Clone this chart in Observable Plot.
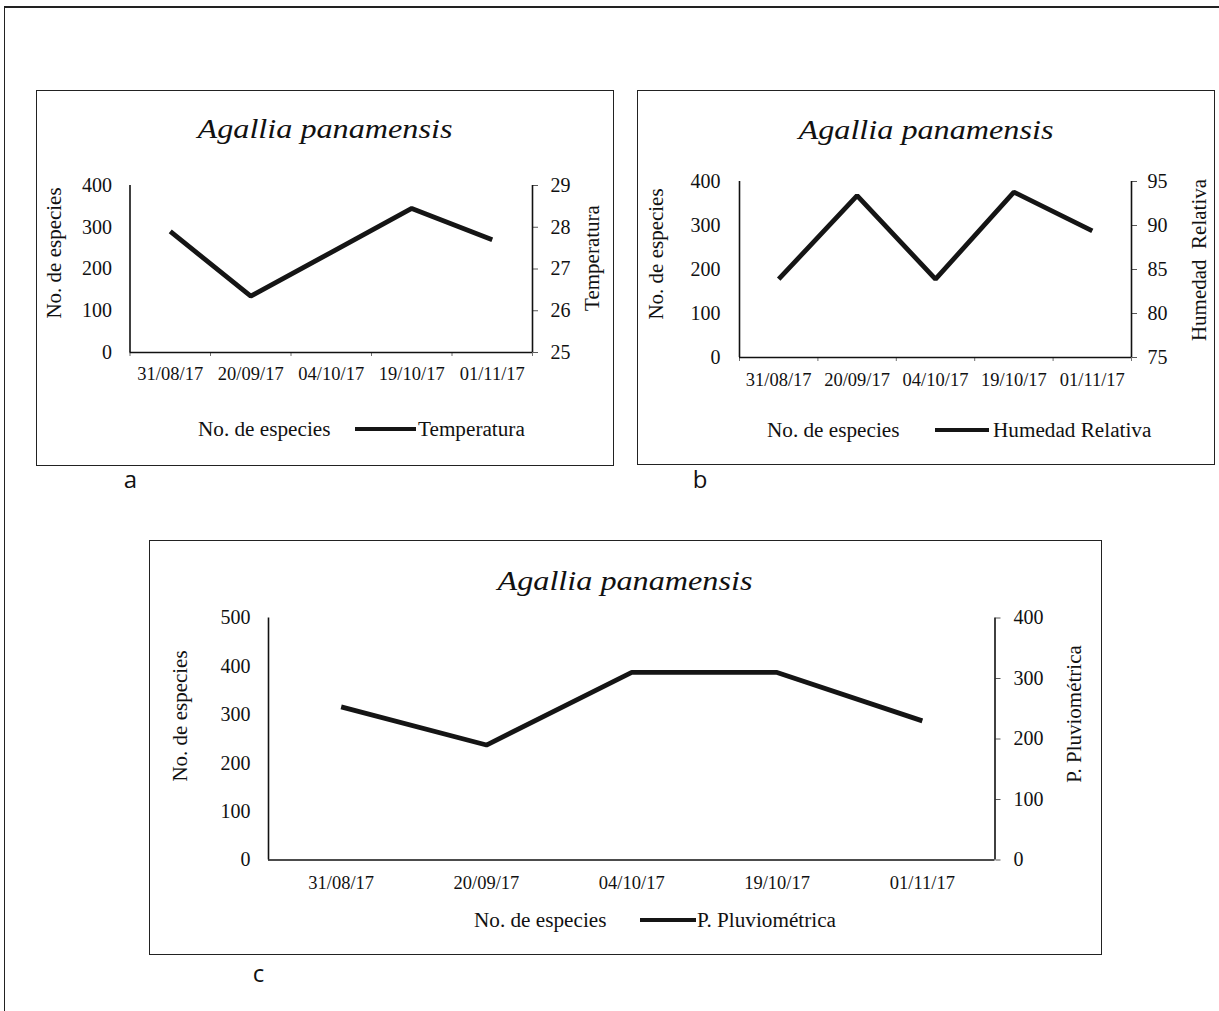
<!DOCTYPE html>
<html><head><meta charset="utf-8">
<script src="https://cdn.jsdelivr.net/npm/d3@7"></script>
<script src="https://cdn.jsdelivr.net/npm/@observablehq/plot@0.6"></script>
<style>
body{margin:0;background:#fff;}
#page{position:relative;width:1219px;height:1011px;overflow:hidden;font-family:"Liberation Serif","Times New Roman",serif;color:#111;background:#fff;}
.box{position:absolute;border:1.5px solid #222;box-sizing:border-box;}
.t{position:absolute;white-space:pre;line-height:1;}
.plotwrap{position:absolute;}
.plotwrap svg{position:absolute;left:0;top:0;}
.plotwrap svg g[aria-label="line"] path{filter:blur(0.5px);}
</style></head><body><div id="page"></div>
<script>
// ---- data ----
const dates = ["31/08/17","20/09/17","04/10/17","19/10/17","01/11/17"];
const temperatura = [27.9, 26.35, 27.4, 28.45, 27.7];
const humedadRelativa = [83.9, 93.4, 83.9, 93.8, 89.4];
const pluviometrica = [253, 190, 310, 310, 230];
const especiesTicksAB = [0,100,200,300,400];
const especiesTicksC = [0,100,200,300,400,500];
const temperaturaTicks = [25,26,27,28,29];
const humedadTicks = [75,80,85,90,95];
const pluviometricaTicks = [0,100,200,300,400];
const title = "Agallia panamensis";

const page = document.getElementById("page");

function txt(s, x, y, size, o = {}) {
  const d = document.createElement("div");
  d.className = "t";
  d.textContent = s;
  d.style.fontSize = size + "px";
  if (o.family) d.style.fontFamily = o.family;
  if (o.italic) d.style.fontStyle = "italic";
  d.style.left = x + "px";
  d.style.top = y + "px";
  const anchor = o.anchor || "middle";
  const tx = anchor === "middle" ? "-50%" : anchor === "start" ? "0" : "-100%";
  d.style.transformOrigin = anchor === "middle" ? "50% 50%" : anchor === "start" ? "0 50%" : "100% 50%";
  d.style.transform = `translate(${tx},-50%) rotate(${o.rotate || 0}deg) scaleX(${o.sx || 1})`;
  page.appendChild(d);
}
function swatch(x0, x1, cy) {
  const d = document.createElement("div");
  d.style.position = "absolute";
  d.style.left = x0 + "px"; d.style.width = (x1 - x0) + "px";
  d.style.top = (cy - 2.25) + "px"; d.style.height = "4.5px";
  d.style.background = "#151515";
  page.appendChild(d);
}

// outer frame
const frame = document.createElement("div");
Object.assign(frame.style, {position:"absolute", left:"4px", top:"6px", width:"1230px", height:"1020px",
  borderTop:"2px solid #222", borderLeft:"1.5px solid #222"});
page.appendChild(frame);

function panel(cfg) {
  const [bx0, by0, bx1, by1] = cfg.box;
  const [px0, py0, px1, py1] = cfg.plot;
  const W = bx1 - bx0, H = by1 - by0;
  const box = document.createElement("div");
  box.className = "box";
  Object.assign(box.style, {left: bx0 + "px", top: by0 + "px", width: W + "px", height: H + "px"});
  page.appendChild(box);

  const margins = {marginLeft: px0 - bx0, marginRight: bx1 - px1, marginTop: py0 - by0, marginBottom: by1 - py1};
  const style = {fontFamily: '"Liberation Serif","Times New Roman",serif', fontSize: "19px", color: "#111",
    background: "transparent", overflow: "visible"};
  const n = dates.length;
  const centers = dates.map((d, i) => i + 0.5);

  const leftPlot = Plot.plot({
    width: W, height: H, ...margins, style,
    x: {domain: [0, n]},
    y: {domain: cfg.leftDomain},
    marks: [
      Plot.axisY(cfg.leftTicks, {anchor: "left", tickSize: 0, tickPadding: cfg.leftPad, label: null, fontSize: 20}),
      Plot.axisX(centers, {anchor: "bottom", tickSize: 0, tickPadding: cfg.xPad, label: null, fontSize: 18.5,
        tickFormat: v => dates[Math.floor(v)]}),
      ...(cfg.boundaryTicks ? [Plot.axisX(d3.range(0, n + 1), {anchor: "bottom", tickSize: 4, tickFormat: () => "", label: null, strokeOpacity: 0.6})] : []),
      Plot.ruleX([0], {stroke: "#111", strokeWidth: 1.6}),
      Plot.ruleY([cfg.leftDomain[0]], {stroke: "#111", strokeWidth: 1.6})
    ]
  });
  const rightPlot = Plot.plot({
    width: W, height: H, ...margins, style,
    x: {domain: [0, n], axis: null},
    y: {domain: cfg.rightDomain},
    marks: [
      Plot.axisY(cfg.rightTicks, {anchor: "right", tickSize: 5, tickPadding: cfg.rightPad, label: null, strokeOpacity: 0.7, fontSize: 20}),
      Plot.ruleX([n], {stroke: "#111", strokeWidth: 1.6}),
      Plot.line(cfg.values, {x: (d, i) => i + 0.5, y: d => d, stroke: "#151515", strokeWidth: 4.8,
        strokeLinejoin: "miter", strokeLinecap: "butt"})
    ]
  });
  const wrap = document.createElement("div");
  wrap.className = "plotwrap";
  Object.assign(wrap.style, {left: bx0 + "px", top: by0 + "px", width: W + "px", height: H + "px"});
  wrap.appendChild(leftPlot);
  wrap.appendChild(rightPlot);
  page.appendChild(wrap);

  // title, axis titles, legend
  txt(title, cfg.titleX, cfg.titleY, 28, {italic: true, sx: 1.15});
  txt("No. de especies", cfg.leftTitle[0], cfg.leftTitle[1], 21, {rotate: -90});
  txt(cfg.rightTitle, cfg.rightTitlePos[0], cfg.rightTitlePos[1], 21, {rotate: -90});
  txt("No. de especies", cfg.legend.x0, cfg.legend.y, 20, {anchor: "start", sx: 1.06});
  swatch(cfg.legend.s0, cfg.legend.s1, cfg.legend.y);
  txt(cfg.seriesName, cfg.legend.x1, cfg.legend.y, 20, {anchor: "start", sx: 1.06});
}

panel({
  box: [36, 90, 614, 466], plot: [129.5, 185, 532, 352],
  leftDomain: [0, 400], leftTicks: especiesTicksAB, rightDomain: [25, 29], rightTicks: temperaturaTicks,
  values: temperatura, seriesName: "Temperatura", rightTitle: "Temperatura",
  leftPad: 18, rightPad: 13, xPad: 14, boundaryTicks: true,
  titleX: 325, titleY: 128.5, leftTitle: [53.5, 253], rightTitlePos: [592, 257.5],
  legend: {x0: 198, s0: 355, s1: 416, x1: 418, y: 429}
});
panel({
  box: [637, 90, 1215, 465], plot: [739, 181, 1131, 357],
  leftDomain: [0, 400], leftTicks: especiesTicksAB, rightDomain: [75, 95], rightTicks: humedadTicks,
  values: humedadRelativa, seriesName: "Humedad Relativa", rightTitle: "Humedad  Relativa",
  leftPad: 19, rightPad: 11, xPad: 15, boundaryTicks: true,
  titleX: 926, titleY: 129.5, leftTitle: [656, 253.5], rightTitlePos: [1199, 260],
  legend: {x0: 767, s0: 935, s1: 989, x1: 993, y: 430}
});
panel({
  box: [149, 540, 1102, 955], plot: [268, 617.5, 994.5, 859.5],
  leftDomain: [0, 500], leftTicks: especiesTicksC, rightDomain: [0, 400], rightTicks: pluviometricaTicks,
  values: pluviometrica, seriesName: "P. Pluviométrica", rightTitle: "P. Pluviométrica",
  leftPad: 18, rightPad: 13.5, xPad: 16, boundaryTicks: false,
  titleX: 625, titleY: 580.5, leftTitle: [180, 716], rightTitlePos: [1074, 714],
  legend: {x0: 474, s0: 640, s1: 696, x1: 697, y: 920}
});

// panel letters
txt("a", 130.5, 478.7, 24, {family: '"Open Sans", sans-serif'});
txt("b", 700, 478.7, 24, {family: '"Open Sans", sans-serif'});
txt("c", 258.5, 972.7, 24, {family: '"Open Sans", sans-serif'});
</script></body></html>
